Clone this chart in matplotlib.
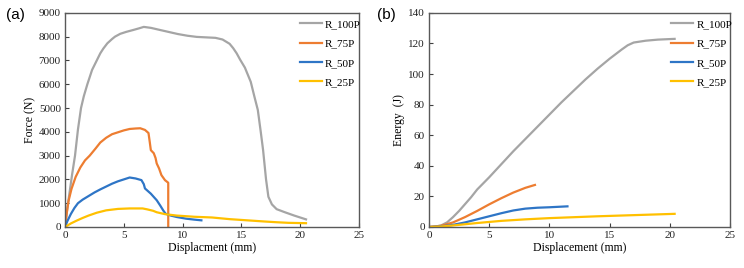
import matplotlib
matplotlib.use("Agg")
import matplotlib.pyplot as plt

# force vs displacement (a)
x_100 = [0, 0.2, 0.4, 0.6, 0.85, 1.1, 1.36, 1.6, 1.9, 2.3, 2.7, 3.0, 3.26, 3.6, 4.0, 4.25, 4.7, 5.2, 5.8, 6.3, 6.7,
         7.3, 8.0, 8.8, 9.6, 10.4, 11.2, 12.0, 12.8, 13.4, 14.0, 14.3, 14.6, 14.9, 15.3, 15.8, 16.1, 16.4,
         16.65, 16.85, 17.1, 17.3, 17.6, 18.0, 18.7, 19.5, 20.5]
f_100 = [0, 800, 1500, 2200, 3000, 4100, 5000, 5500, 6000, 6600, 7000, 7300, 7500, 7720, 7900, 8000, 8120, 8200,
         8280, 8350, 8410, 8370, 8290, 8200, 8110, 8040, 7990, 7970, 7950, 7880, 7700, 7520, 7300, 7030, 6700,
         6100, 5500, 4920, 4000, 3230, 2000, 1270, 950, 750, 620, 480, 320]
x_75 = [0, 0.15, 0.3, 0.55, 0.9, 1.3, 1.7, 2.1, 2.6, 3.0, 3.5, 4.0, 4.5, 5.0, 5.5, 6.0, 6.4, 6.8, 7.1, 7.2, 7.3,
        7.55, 7.7, 7.8, 8.0, 8.2, 8.5, 8.78, 8.78]
f_75 = [0, 600, 1100, 1600, 2100, 2500, 2800, 3000, 3300, 3550, 3750, 3900, 3980, 4060, 4120, 4140, 4150, 4080,
        3950, 3600, 3230, 3100, 2900, 2670, 2460, 2180, 1970, 1860, 0]
x_50 = [0, 0.2, 0.5, 0.8, 1.1, 1.5, 2.0, 2.5, 3.0, 3.5, 4.0, 4.5, 5.0, 5.5, 6.0, 6.5, 6.7, 6.8, 7.3, 7.8, 8.1,
        8.35, 8.55, 9.0, 9.5, 10.3, 11.0, 11.6]
f_50 = [0, 250, 550, 800, 1000, 1150, 1300, 1450, 1580, 1700, 1820, 1920, 2000, 2080, 2040, 1970, 1800, 1620,
        1400, 1125, 900, 700, 560, 480, 420, 350, 310, 280]
x_25 = [0, 0.5, 1.0, 1.5, 2.0, 2.7, 3.5, 4.5, 5.5, 6.6, 7.0, 7.5, 7.8, 8.5, 9.5, 11.0, 12.5, 14.0, 15.5, 17.0,
        18.0, 19.0, 20.5]
f_25 = [0, 150, 270, 380, 480, 600, 700, 760, 780, 780, 740, 680, 620, 540, 480, 430, 400, 330, 280, 230, 200,
        175, 160]

# energy vs displacement (b)
ex_100 = [0, 0.5, 1.0, 1.5, 2.0, 2.5, 3.0, 3.5, 4.0, 5.0, 6.0, 7.0, 8.0, 9.0, 10.0, 11.0, 12.0, 13.0, 14.0, 15.0,
          16.0, 16.5, 17.0, 18.0, 19.0, 20.4]
e_100 = [0, 0.2, 1, 3, 6.5, 10.5, 15, 19.5, 24.5, 32.5, 41, 49.5, 57.5, 65.5, 73.5, 81.5, 89, 96.5, 103.5,
         110, 116, 118.8, 120.6, 121.8, 122.5, 123]
ex_75 = [0, 1, 2, 3, 4, 5, 6, 7, 8, 8.8]
e_75 = [0, 0.8, 3, 6.5, 10.5, 14.8, 18.8, 22.5, 25.6, 27.5]
ex_50 = [0, 1, 2, 3, 4, 5, 6, 7, 8, 9, 10, 11, 11.5]
e_50 = [0, 0.4, 1.4, 3, 5, 7, 9, 10.8, 12, 12.6, 12.9, 13.3, 13.5]
ex_25 = [0, 1, 2, 3, 4, 5, 6, 8, 10, 12, 14, 16, 18, 20.4]
e_25 = [0, 0.3, 1, 1.8, 2.6, 3.3, 4, 5, 5.8, 6.4, 7, 7.5, 8, 8.6]

labels = ["R_100P", "R_75P", "R_50P", "R_25P"]
colors = ["#A5A5A5", "#ED7D31", "#2E75C6", "#FFC000"]

plt.rcParams['font.family'] = ['Liberation Serif', 'DejaVu Serif']

fig = plt.figure(figsize=(7.44, 2.68), dpi=100)
ax1 = fig.add_axes([0.0874, 0.153, 0.395, 0.799])
ax2 = fig.add_axes([0.5766, 0.153, 0.4046, 0.799])


def style(ax, ymax, ystep, ylabel, xlabel):
    ax.set_xlim(0, 25)
    ax.set_ylim(0, ymax)
    ax.set_xticks(range(0, 26, 5))
    ax.set_yticks(range(0, ymax + 1, ystep))
    ax.tick_params(direction='in', length=3, labelsize=8, colors='#404040', labelcolor='#222222', pad=3)
    for s in ax.spines.values():
        s.set_color('#595959')
        s.set_linewidth(1.0)
    ax.set_xlabel(xlabel, fontsize=8.5, labelpad=1)
    ax.set_ylabel(ylabel, fontsize=8.5, labelpad=2)
    leg = ax.legend(loc='upper right', frameon=False, fontsize=8, handlelength=2.0, handletextpad=0.3,
                    labelspacing=0.85, borderaxespad=0.2, bbox_to_anchor=(1.03, 1.0))
    return leg


xs = [x_100, x_75, x_50, x_25]
fs = [f_100, f_75, f_50, f_25]
for x, y, lab, c in zip(xs, fs, labels, colors):
    ax1.plot(x, y, color=c, lw=1.6, label=lab)
style(ax1, 9000, 1000, "Force (N)", "Displacment (mm)")

exs = [ex_100, ex_75, ex_50, ex_25]
es = [e_100, e_75, e_50, e_25]
for x, y, lab, c in zip(exs, es, labels, colors):
    ax2.plot(x, y, color=c, lw=1.6, label=lab)
style(ax2, 140, 20, "Energy  (J)", "Displacement (mm)")

fig.text(0.008, 0.945, "(a)", fontsize=11, family=['Liberation Sans'], va='center')
fig.text(0.507, 0.945, "(b)", fontsize=11, family=['Liberation Sans'], va='center')

fig.savefig("out.png", dpi=100)
